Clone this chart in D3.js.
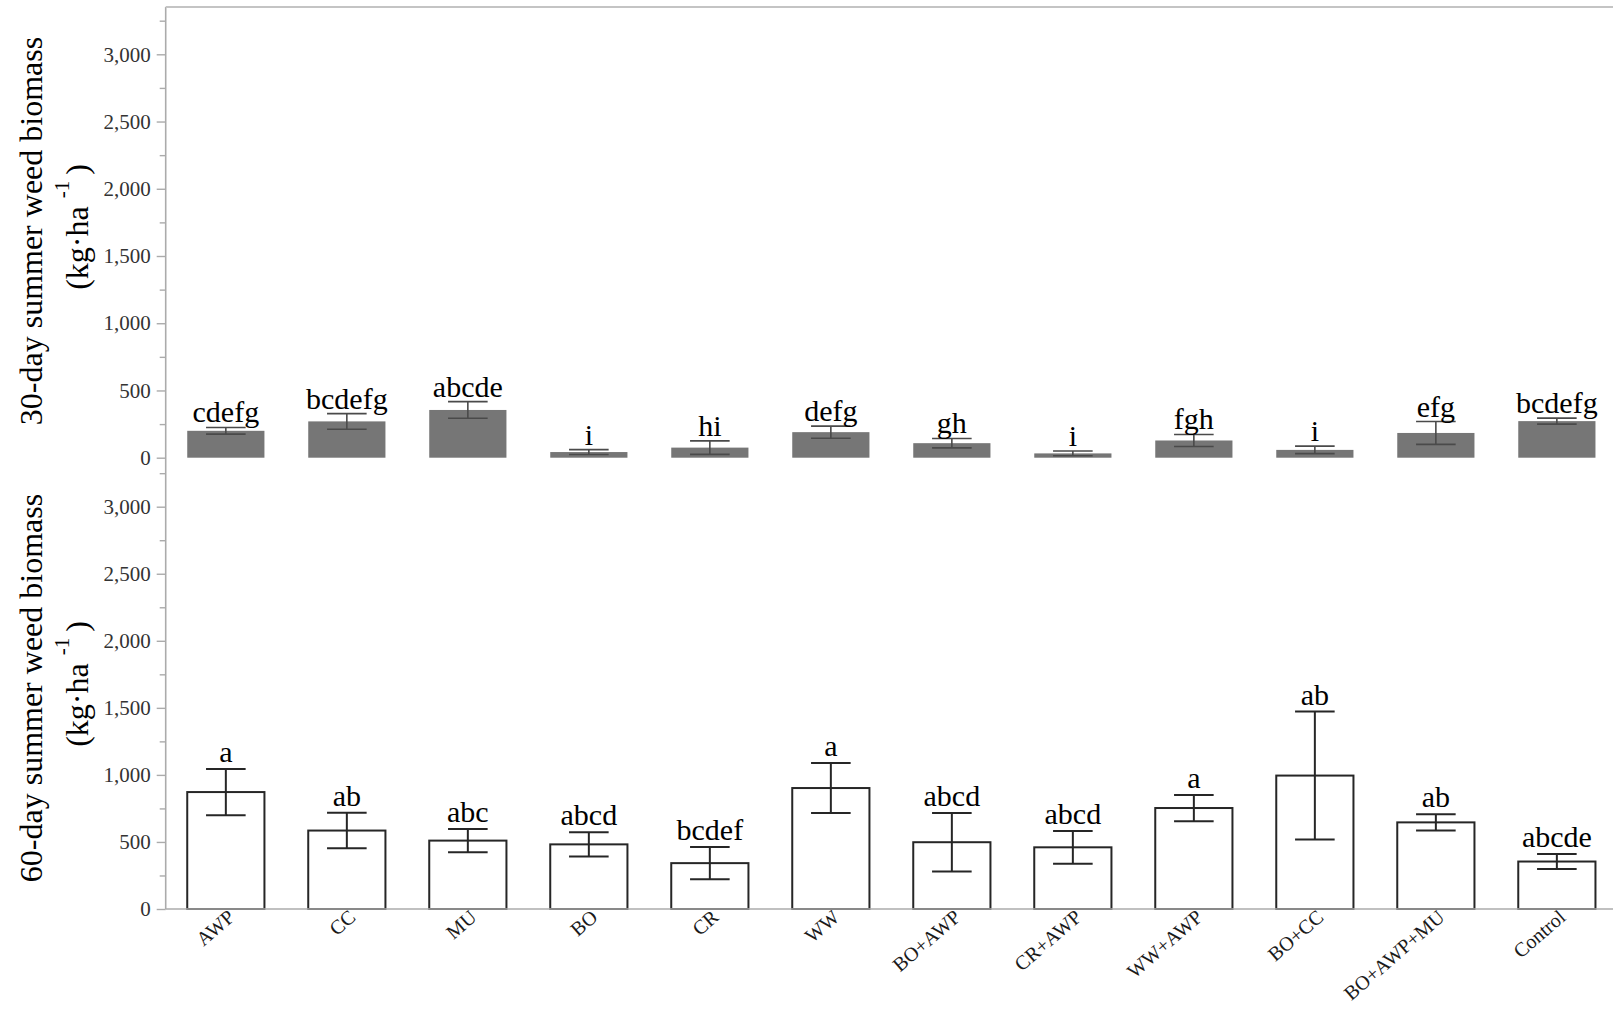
<!DOCTYPE html>
<html>
<head>
<meta charset="utf-8">
<script src="https://cdn.jsdelivr.net/npm/d3@7"></script>
<style>
  html, body { margin: 0; padding: 0; background: #fff; }
  svg { display: block; }
  text { font-family: "Liberation Serif", "Times New Roman", serif; }
</style>
</head>
<body>
<svg id="chart" width="1613" height="1009"></svg>
<script>
// Cover-crop treatments
const categories = ["AWP", "CC", "MU", "BO", "CR", "WW", "BO+AWP", "CR+AWP", "WW+AWP", "BO+CC", "BO+AWP+MU", "Control"];

// 30-day summer weed biomass (kg/ha): mean, standard error, mean-separation letters
const day30Mean = [200, 270, 355, 42, 75, 190, 108, 32, 128, 58, 184, 272];
const day30Err = [25, 58, 62, 18, 50, 45, 35, 18, 45, 28, 85, 22];
const day30Letters = ["cdefg", "bcdefg", "abcde", "i", "hi", "defg", "gh", "i", "fgh", "i", "efg", "bcdefg"];

// 60-day summer weed biomass (kg/ha)
const day60Mean = [872, 585, 510, 482, 342, 902, 498, 460, 753, 995, 646, 354];
const day60Err = [172, 132, 87, 90, 120, 187, 218, 122, 98, 477, 60, 56];
const day60Letters = ["a", "ab", "abc", "abcd", "bcdef", "a", "abcd", "abcd", "a", "ab", "ab", "abcde"];

// Axis ticks
const yTicks = [0, 500, 1000, 1500, 2000, 2500, 3000];
const yMinorTicks = [250, 750, 1250, 1750, 2250, 2750, 3250];

const svg = d3.select("#chart");
const axisX = 165.7;
const rightEdge = 1617;
const axisColor = "#ababab";

const x = d3.scaleBand()
  .domain(categories)
  .range([axisX, rightEdge])
  .paddingInner(0.362)
  .paddingOuter(0.178);

const panels = [
  {
    mean: day30Mean, err: day30Err, letters: day30Letters,
    y: d3.scaleLinear().domain([0, 3000]).range([457.7, 54.3]),
    title: "30-day summer weed biomass", titleY: 231,
    fill: "#767676", stroke: "none", errColor: "#4a4a4a", errWidth: 1.6, labelGap: 5
  },
  {
    mean: day60Mean, err: day60Err, letters: day60Letters,
    y: d3.scaleLinear().domain([0, 3000]).range([909, 506.7]),
    title: "60-day summer weed biomass", titleY: 688,
    fill: "#ffffff", stroke: "#262626", errColor: "#262626", errWidth: 2, labelGap: 7
  }
];

// continuous vertical axis line shared by both panels
svg.append("line")
  .attr("x1", axisX).attr("x2", axisX)
  .attr("y1", 7).attr("y2", 909)
  .attr("stroke", axisColor).attr("stroke-width", 1.6);

// frame line along the top
svg.append("line")
  .attr("x1", axisX).attr("x2", 1613)
  .attr("y1", 7).attr("y2", 7)
  .attr("stroke", "#c4c4c4").attr("stroke-width", 2);

panels.forEach((p) => {
  const g = svg.append("g");

  // major ticks with labels
  const major = d3.axisLeft(p.y)
    .tickValues(yTicks)
    .tickFormat(d3.format(","))
    .tickSize(9)
    .tickPadding(6);
  const ga = g.append("g").attr("transform", `translate(${axisX},0)`).call(major);
  ga.select(".domain").remove();
  ga.selectAll(".tick line").attr("stroke", axisColor).attr("stroke-width", 1.4);
  ga.selectAll(".tick text")
    .attr("fill", "#333")
    .style("font-size", "21px");

  // minor ticks
  const minor = d3.axisLeft(p.y).tickValues(yMinorTicks).tickFormat("").tickSize(6);
  const gm = g.append("g").attr("transform", `translate(${axisX},0)`).call(minor);
  gm.select(".domain").remove();
  gm.selectAll(".tick line").attr("stroke", axisColor).attr("stroke-width", 1.4);

  const rows = categories.map((c, i) => ({ c, m: p.mean[i], e: p.err[i], l: p.letters[i] }));

  // bars
  g.selectAll("rect.bar").data(rows).enter().append("rect")
    .attr("class", "bar")
    .attr("x", d => x(d.c))
    .attr("width", x.bandwidth())
    .attr("y", d => p.y(d.m))
    .attr("height", d => p.y(0) - p.y(d.m))
    .attr("fill", p.fill)
    .attr("stroke", p.stroke)
    .attr("stroke-width", 2);

  // error bars
  const capHalf = x.bandwidth() / 4 + 0.5;
  const eb = g.selectAll("g.err").data(rows).enter().append("g").attr("class", "err")
    .attr("stroke", p.errColor).attr("stroke-width", p.errWidth);
  eb.append("line")
    .attr("x1", d => x(d.c) + x.bandwidth() / 2).attr("x2", d => x(d.c) + x.bandwidth() / 2)
    .attr("y1", d => p.y(d.m + d.e)).attr("y2", d => p.y(Math.max(0, d.m - d.e)));
  eb.append("line")
    .attr("x1", d => x(d.c) + x.bandwidth() / 2 - capHalf).attr("x2", d => x(d.c) + x.bandwidth() / 2 + capHalf)
    .attr("y1", d => p.y(d.m + d.e)).attr("y2", d => p.y(d.m + d.e));
  eb.append("line")
    .attr("x1", d => x(d.c) + x.bandwidth() / 2 - capHalf).attr("x2", d => x(d.c) + x.bandwidth() / 2 + capHalf)
    .attr("y1", d => p.y(Math.max(0, d.m - d.e))).attr("y2", d => p.y(Math.max(0, d.m - d.e)));

  // mean-separation letters
  g.selectAll("text.letter").data(rows).enter().append("text")
    .attr("class", "letter")
    .attr("x", d => x(d.c) + x.bandwidth() / 2)
    .attr("y", d => p.y(d.m + d.e) - p.labelGap)
    .attr("text-anchor", "middle")
    .attr("fill", "#000")
    .style("font-size", "30px")
    .text(d => d.l);

  // axis title, two lines
  svg.append("text")
    .attr("transform", `translate(42,${p.titleY}) rotate(-90)`)
    .attr("text-anchor", "middle")
    .attr("fill", "#000")
    .style("font-size", "32px")
    .text(p.title);
  const unit = svg.append("text")
    .attr("transform", `translate(88,${p.titleY - 4}) rotate(-90)`)
    .attr("text-anchor", "middle")
    .attr("fill", "#000")
    .style("font-size", "32px");
  unit.append("tspan").text("(kg·ha");
  unit.append("tspan").attr("dx", 8).attr("dy", -19).style("font-size", "21px").text("-1");
  unit.append("tspan").attr("dx", 6).attr("dy", 19).text(")");
});

// category axis along the bottom
const xAxis = d3.axisBottom(x).tickSize(0).tickPadding(0);
const gx = svg.append("g").attr("transform", "translate(0,909)").call(xAxis);
gx.select(".domain").remove();
gx.append("line")
  .attr("x1", axisX).attr("x2", 1613).attr("y1", 0).attr("y2", 0)
  .attr("stroke", axisColor).attr("stroke-width", 1.6);
gx.selectAll(".tick text")
  .attr("fill", "#1a1a1a")
  .style("font-size", "20px")
  .attr("text-anchor", "end")
  .attr("dy", 0)
  .attr("y", 0)
  .attr("transform", "translate(10,10) rotate(-41)");
</script>
</body>
</html>
